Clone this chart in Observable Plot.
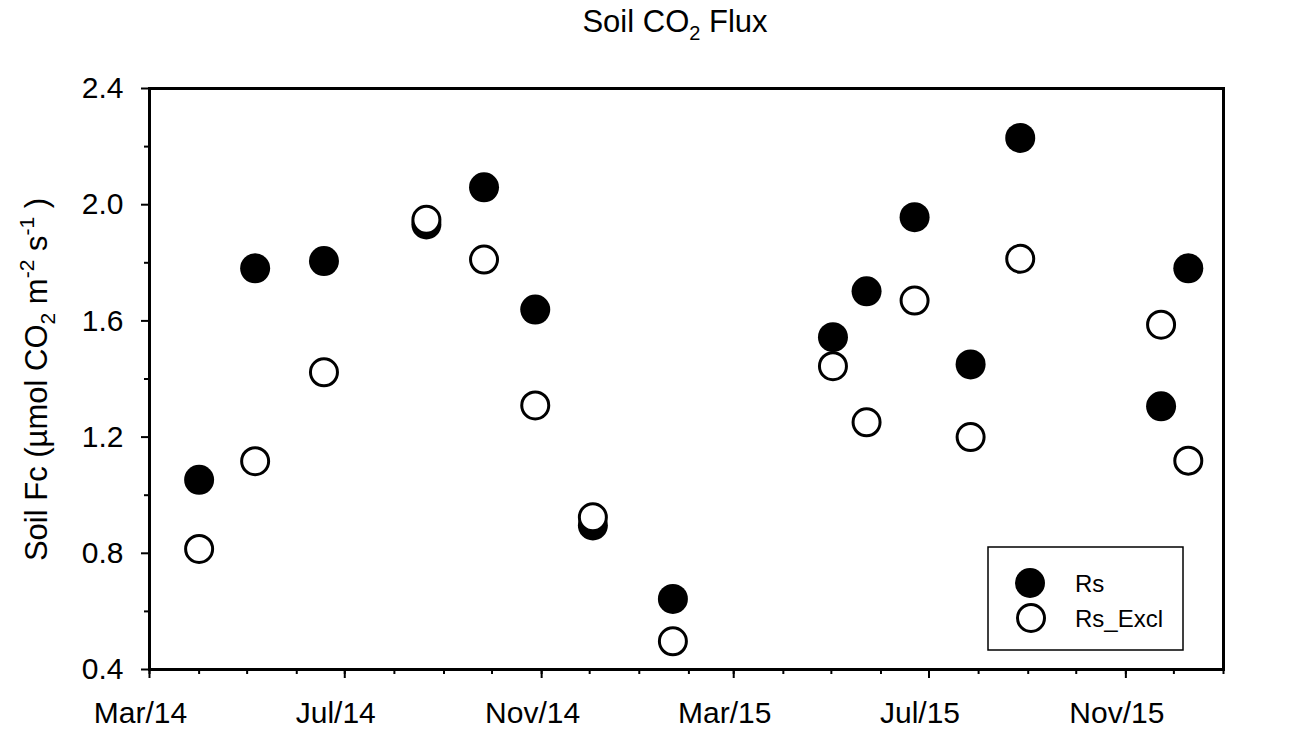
<!DOCTYPE html>
<html>
<head>
<meta charset="utf-8">
<script src="https://cdn.jsdelivr.net/npm/d3@7"></script>
<script src="https://cdn.jsdelivr.net/npm/@observablehq/plot@0.6"></script>
<style>
  body { margin: 0; background: #fff; font-family: "Liberation Sans", Arial, sans-serif; }
  #title {
    height: 50px; box-sizing: border-box; padding-top: 7px; padding-left: 53px;
    text-align: center; font-size: 31px; line-height: 30px; color: #000;
  }
  #title sub { font-size: 20px; vertical-align: -8px; line-height: 0; }
</style>
</head>
<body>
<div id="title">Soil CO<sub>2</sub> Flux</div>
<div id="chart"></div>
<script>
// Sampling dates (campaign days)
const dates = [
  "2014-04-01", "2014-05-06", "2014-06-18", "2014-08-21", "2014-09-26",
  "2014-10-28", "2014-12-03", "2015-01-22", "2015-05-02", "2015-05-23",
  "2015-06-22", "2015-07-27", "2015-08-27", "2015-11-23", "2015-12-10"
];
// Soil respiration, all collars
const rs = [1.053, 1.781, 1.806, 1.932, 2.060, 1.639, 0.896, 0.643,
            1.544, 1.702, 1.957, 1.450, 2.230, 1.306, 1.781];
// Soil respiration, excluded collars
const rsExcl = [0.815, 1.117, 1.423, 1.948, 1.811, 1.309, 0.924, 0.497,
                1.444, 1.251, 1.670, 1.200, 1.814, 1.587, 1.119];

const seriesNames = ["Rs", "Rs_Excl"];
const xTickDates = ["2014-03-01", "2014-07-01", "2014-11-01", "2015-03-01", "2015-07-01", "2015-11-01"];
const xDomain = ["2014-03-01", "2016-01-01"];
const yMajor = [0.4, 0.8, 1.2, 1.6, 2.0, 2.4];
const yMinor = [0.6, 1.0, 1.4, 1.8, 2.2];

const parse = d3.utcParse("%Y-%m-%d");
const rsData = dates.map((d, i) => ({date: parse(d), value: rs[i]}));
const exclData = dates.map((d, i) => ({date: parse(d), value: rsExcl[i]}));
const majorTicks = xTickDates.map(parse);
const minorTicks = d3.utcMonth.range(parse(xDomain[0]), d3.utcDay.offset(parse(xDomain[1]), 1));

const W = 1297, H = 699;
const font = "'Liberation Sans', Arial, sans-serif";

const chart = Plot.plot({
  width: W,
  height: H,
  marginTop: 38,
  marginBottom: 80,
  marginLeft: 149,
  marginRight: 74,
  style: {fontFamily: font, fontSize: "30px", color: "black", background: "white", overflow: "visible"},
  x: {type: "utc", domain: xDomain.map(parse)},
  y: {domain: [0.4, 2.4]},
  marks: [
    // minor ticks
    Plot.axisY({ticks: yMinor, tickSize: 5, strokeWidth: 2, tickFormat: () => "", label: null}),
    Plot.axisX({ticks: minorTicks, tickSize: 5, strokeWidth: 2, tickFormat: () => "", label: null}),
    // major ticks and labels
    Plot.axisY({ticks: yMajor, tickSize: 8, tickPadding: 18, strokeWidth: 2,
                tickFormat: d => d.toFixed(1), fontSize: 30, label: null}),
    Plot.axisX({ticks: majorTicks, tickSize: 9, strokeWidth: 2, tickFormat: () => "", label: null}),
    Plot.axisX({ticks: majorTicks, tickSize: 0, tickPadding: 32, dx: -9,
                tickFormat: d3.utcFormat("%b/%y"), fontSize: 30, label: null}),
    Plot.dot(rsData, {x: "date", y: "value", r: 15, fill: "black", stroke: "none"}),
    Plot.dot(exclData, {x: "date", y: "value", r: 13.5, fill: "white", stroke: "black", strokeWidth: 3}),
    Plot.frame({stroke: "black", strokeWidth: 3})
  ]
});

document.getElementById("chart").appendChild(chart);

const svg = d3.select(chart);

// Y axis title with sub/superscripts
const yl = svg.append("text")
  .attr("transform", `translate(47,${(38 + (H - 80)) / 2 + 1}) rotate(-90)`)
  .attr("text-anchor", "middle")
  .attr("font-family", font)
  .attr("font-size", 31)
  .attr("fill", "black");
yl.append("tspan").text("Soil Fc (\u00B5mol CO");
yl.append("tspan").attr("font-size", 21).attr("dy", 8).text("2");
yl.append("tspan").attr("dy", -8).text(" m");
yl.append("tspan").attr("font-size", 21).attr("dy", -13).text("-2");
yl.append("tspan").attr("dy", 13).text(" s");
yl.append("tspan").attr("font-size", 21).attr("dy", -13).text("-1");
yl.append("tspan").attr("dy", 13).text(" )");

// Legend box in the lower right of the plot area
const lg = svg.append("g").attr("transform", "translate(988,497)");
lg.append("rect").attr("width", 195).attr("height", 103)
  .attr("fill", "white").attr("stroke", "black").attr("stroke-width", 1.5);
lg.append("circle").attr("cx", 42).attr("cy", 36).attr("r", 15).attr("fill", "black");
lg.append("circle").attr("cx", 43).attr("cy", 71).attr("r", 13.5)
  .attr("fill", "white").attr("stroke", "black").attr("stroke-width", 3);
lg.selectAll("text.lab").data(seriesNames).join("text")
  .attr("class", "lab")
  .attr("x", 87).attr("y", (d, i) => 44.7 + i * 35)
  .attr("text-anchor", "start")
  .attr("font-family", font).attr("font-size", 24).attr("fill", "black")
  .text(d => d);
</script>
</body>
</html>
